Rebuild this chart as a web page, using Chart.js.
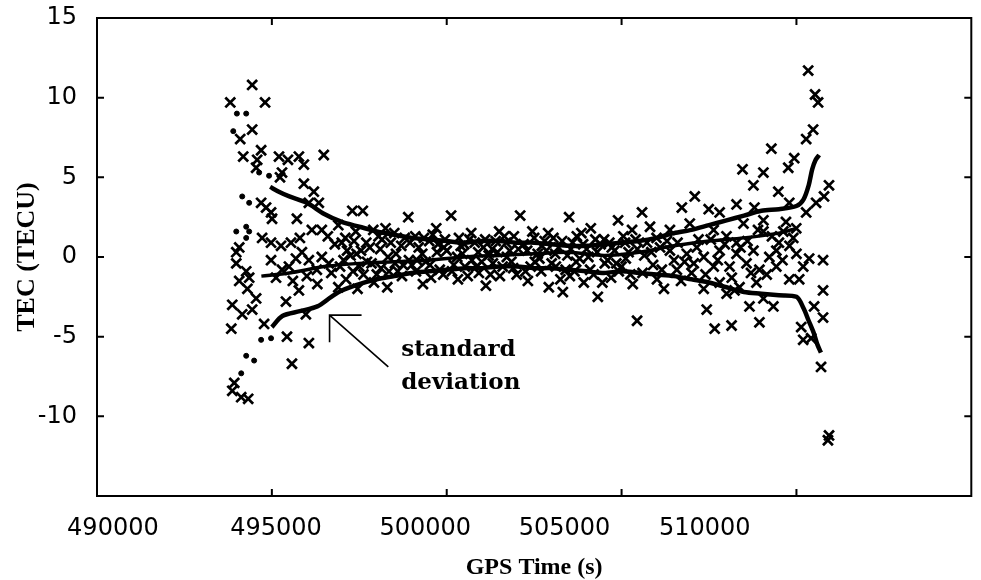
<!DOCTYPE html>
<html>
<head>
<meta charset="utf-8">
<script src="https://cdn.jsdelivr.net/npm/chart.js@4"></script>
<style>
  html, body { margin: 0; padding: 0; background: #fff; }
  #wrap { width: 981px; height: 580px; }
</style>
</head>
<body>
<div id="wrap"><canvas id="tecChart"></canvas></div>
<script>
// axis ticks
const xTickValues = [490000, 495000, 500000, 505000, 510000];
const xTickLabels = ['490000', '495000', '500000', '505000', '510000'];
const yTickValues = [-10, -5, 0, 5, 10, 15];

// TEC residuals (x markers), [GPS time, TECU]
const crossesLeft = [
  [493811, 9.7], [494437, 10.8], [494806, 9.7], [494437, 8.0], [494095, 7.4], [494181, 6.3],
  [494693, 6.7], [494580, 6.1], [494550, 5.6], [495204, 6.3], [495460, 6.1], [495773, 6.3],
  [495915, 5.8], [496484, 6.4], [495290, 5.3], [495233, 5.0], [494693, 3.4], [494835, 3.1],
  [495005, 2.4], [494977, 2.8], [495915, 4.6], [496200, 4.1], [496058, 3.4], [496342, 3.4],
  [495716, 2.4], [496427, 1.7], [494721, 1.2], [494977, 0.9], [495262, 0.7], [495546, 0.9],
  [495802, 1.2], [496143, 1.7], [494067, 0.6], [493982, 0.3], [493982, -0.4], [494266, -0.9],
  [494351, -1.3], [494067, -1.5], [494977, -0.2], [495119, -1.3], [495290, -0.8], [495489, -0.6],
  [495688, -0.1], [495859, 0.3], [496058, -0.2], [496285, -0.8], [496427, 0.0], [496626, -0.4],
  [495773, -2.1], [493868, -3.0], [494152, -3.6], [494550, -2.6], [494437, -3.3], [494778, -4.2],
  [493840, -4.5], [495403, -2.8], [495972, -3.6], [495432, -5.0], [496058, -5.4], [495574, -6.7],
  [493925, -7.9], [493868, -8.4], [494124, -8.8], [494323, -8.9], [495600, -1.5], [496000, -1.2],
  [496300, -1.7], [496700, -1.0], [496800, 0.8], [496600, 1.3], [496900, -1.9], [494300, -2.0]
];
const crossesMid = [
  [496900, 2.0], [496950, -0.6], [497100, 1.2], [497120, -1.4], [497150, 0.4], [497300, 2.9],
  [497320, -0.9], [497400, 1.6], [497420, 0.2], [497450, -2.0], [497600, 2.9], [497620, -1.1],
  [497700, 0.9], [497720, -0.3], [497900, 1.7], [497920, -1.6], [498100, 0.5], [498120, -0.7],
  [498150, 1.1], [498300, -1.9], [498320, 0.0], [498500, 1.5], [498520, -0.4], [498700, 0.7],
  [498720, -1.2], [498900, 2.5], [498920, -0.2], [499100, 1.3], [499120, -0.9], [499300, 0.2],
  [499320, -1.7], [499500, 1.0], [499520, -0.5], [499700, 1.8], [499720, 0.3], [499900, -1.1],
  [499920, 0.6], [500125, 2.6], [500300, 0.0], [500320, -1.4], [500350, 1.2], [500500, 0.8],
  [500520, -0.6], [500700, 1.5], [500720, -0.2], [500900, 0.3], [500920, -1.0], [501100, 1.1],
  [501120, -1.8], [501300, 0.5], [501320, -0.4], [501500, 1.6], [501520, -1.2], [501700, 0.9],
  [501720, 0.0], [501900, -0.7], [501920, 1.3], [502100, 2.6], [502300, 0.4], [502320, -1.5],
  [502500, 1.2], [502520, -0.3], [502700, -0.9], [502720, 0.7], [502900, 1.5], [502920, -1.9],
  [503100, 0.2], [503120, -0.6], [503300, 1.0], [503320, -2.2], [503500, 2.5], [503520, -1.2],
  [503550, 0.5], [503700, -0.3], [503720, 1.3], [503900, 0.8], [503920, -1.6], [504100, -0.8],
  [504120, 1.8], [504300, 0.3], [504320, -2.5], [504500, 1.1], [504520, -0.4], [504700, -1.3],
  [504720, 0.6], [504900, 2.3], [504920, -0.9], [505100, 0.9], [505120, -0.1], [505300, 1.7],
  [505320, -1.7], [505443, -4.0],
  [497000, 0.9], [497250, 0.1], [497500, -0.6], [497800, 0.6], [498000, -1.1], [498250, 1.8],
  [498400, 0.9], [498600, -0.9], [498800, 1.2], [499000, -0.5], [499200, 0.6], [499400, -0.3],
  [499600, 1.4], [499800, -0.8], [500000, 0.4], [500200, -0.5], [500400, 0.7], [500600, -1.2],
  [500800, 0.9], [501000, -0.3], [501200, 0.1], [501400, 1.0], [501600, -0.6], [501800, 0.4],
  [502000, -1.1], [502200, 0.8], [502400, -0.6], [502600, 0.2], [502800, 1.0], [503000, -0.4],
  [503200, 0.6], [503400, -0.8], [503600, 0.9], [503800, -0.1], [504000, 0.5], [504200, -1.1],
  [504400, 0.8], [504600, -0.2], [504800, 0.4], [505000, -0.6], [505200, 0.3], [505400, 1.1],
  [497050, -0.2], [497350, 1.0], [497550, 0.4], [497850, -0.4], [498050, 1.3], [498350, -0.9],
  [498550, 0.2], [498750, -0.5], [498950, 0.9], [499150, -0.2], [499350, 1.2], [499550, -1.3],
  [499750, 0.8], [499950, 1.1], [500150, -0.9], [500450, 0.2], [500650, 1.1], [500850, -0.6],
  [501050, 0.6], [501250, -1.1], [501450, 0.3], [501650, 1.3], [501850, -0.3], [502050, 0.5],
  [502250, -0.9], [502450, 1.6], [502650, -0.1], [502850, 0.4], [503050, 1.2], [503250, -1.4],
  [503450, 0.1], [503650, -0.9], [503850, 1.5], [504050, 0.0], [504250, 1.1], [504450, -1.6],
  [504650, 0.9], [504850, -0.4], [505050, 1.3], [505250, -1.1], [505450, 0.5], [505650, 0.1]
];
const crossesRight = [
  [510335, 11.7], [510533, 10.2], [510619, 9.7], [510477, 8.0], [510278, 7.4], [509283, 6.8],
  [508458, 5.5], [509055, 5.3], [509937, 6.2], [509766, 5.6], [508770, 4.5], [510931, 4.5],
  [509482, 4.1], [510789, 3.8], [510562, 3.4], [509795, 3.4], [510278, 2.8], [507093, 3.8],
  [506723, 3.1], [508287, 3.3], [508799, 3.1], [507491, 3.0], [507803, 2.8], [505585, 2.8],
  [509624, 1.6], [509994, 1.8], [509909, 1.2], [509055, 1.6], [508287, 0.9], [510761, -0.2],
  [510363, -0.1], [510193, -0.6], [510761, -2.1], [510079, -1.4], [509795, -1.4], [510505, -3.1],
  [510761, -3.8], [510136, -4.4], [510193, -5.2], [510420, -5.1], [510704, -6.9], [510932, -11.2],
  [510900, -11.5], [507434, -3.3], [507662, -4.5], [508145, -4.3], [508941, -4.1], [508657, -3.1],
  [509340, -3.1], [506211, -2.0], [507349, -2.0], [508003, -2.3], [508230, -2.1], [509055, -2.6],
  [506382, 0.4], [506865, 0.2], [507349, 0.0], [507804, 0.4], [508287, 0.2], [508770, 0.4],
  [509225, 0.0], [509425, 0.4], [508088, -0.6], [508572, -0.4], [508941, -0.8], [509425, -0.6],
  [507633, -0.6], [507064, -0.4], [506580, -0.8], [506012, -1.4], [507804, -1.6], [508372, -1.9],
  [508856, -1.6], [505727, 0.9], [505813, 1.9], [506382, 1.7], [506950, 2.1], [507633, 1.7],
  [508486, 2.1], [509055, 2.3], [505900, -0.5], [506100, 0.6], [505600, -1.0], [506700, -1.5],
  [506000, 1.2], [506500, -0.2], [507200, 1.1], [507000, -1.0], [508000, 1.3], [508600, 1.0],
  [509300, 1.3], [509600, -0.2], [509800, 0.7],
  [505850, 0.3], [506150, -0.8], [506300, 1.0], [506600, 0.9], [506800, -0.3], [507150, 0.6],
  [507400, -1.1], [507550, 1.1], [507750, -0.2], [507950, 0.8], [508150, -1.3], [508400, 0.6],
  [508700, -1.0], [508900, 1.7], [509150, -1.1], [509500, 0.9], [509700, 2.2], [510000, 0.2]
];

// scattered samples at the start of the arc (small dots)
const dotsLeft = [
  [493896, 7.9], [494000, 9.0], [494266, 9.0], [494636, 5.3], [494920, 5.1], [494152, 3.8],
  [494351, 3.4], [494266, 1.9], [493982, 1.6], [494351, 1.6], [494266, 1.2], [494693, -5.2],
  [494977, -5.1], [494266, -6.2], [494493, -6.5], [494124, -7.3]
];

// standard deviation and mean curves
const stdUpper = [
  [494950, 4.4], [495200, 4.1], [495500, 3.8], [496000, 3.4], [496500, 2.7], [497000, 2.2],
  [497500, 1.9], [498000, 1.6], [498500, 1.4], [499000, 1.2], [499500, 1.1], [500000, 1.0],
  [500500, 0.9], [501000, 1.0], [501500, 1.0], [502000, 0.9], [502500, 0.9], [503000, 0.8],
  [503500, 0.7], [504000, 0.7], [504500, 0.8], [505000, 0.9], [505500, 1.0], [506000, 1.2],
  [506500, 1.5], [507000, 1.7], [507500, 2.0], [508000, 2.3], [508500, 2.6], [509000, 2.9],
  [509500, 3.0], [510000, 3.2], [510200, 3.6], [510350, 4.5], [510450, 5.5], [510550, 6.1],
  [510650, 6.4]
];
const stdLower = [
  [495000, -4.4], [495300, -3.7], [495800, -3.4], [496300, -3.1], [496700, -2.5], [497000, -2.1],
  [497500, -1.7], [498000, -1.4], [498500, -1.2], [499000, -1.0], [499500, -0.9], [500000, -0.8],
  [500500, -0.7], [501000, -0.7], [501500, -0.6], [502000, -0.6], [502500, -0.7], [503000, -0.7],
  [503500, -0.8], [504000, -0.9], [504500, -1.0], [505000, -0.9], [505500, -1.0], [506000, -1.1],
  [506500, -1.2], [507000, -1.4], [507500, -1.6], [508000, -1.9], [508500, -2.2], [509000, -2.3],
  [509500, -2.4], [510000, -2.5], [510200, -3.2], [510350, -4.0], [510500, -4.8], [510600, -5.5],
  [510700, -6.0]
];
const meanLine = [
  [494700, -1.2], [495500, -1.0], [496500, -0.6], [497500, -0.4], [498500, -0.3], [499500, -0.2],
  [500500, 0.0], [501500, 0.1], [502500, 0.2], [503500, 0.3], [504500, 0.1], [505500, 0.3],
  [506500, 0.7], [507500, 1.0], [508500, 1.2], [509500, 1.5], [510000, 1.8]
];

// annotation (data coordinates)
const noteText = ['standard', 'deviation'];
const noteAt = [498700, -5.85];
const arrowTip = [496650, -3.65];
const arrowTail = [498330, -6.9];

// label nudges so tick labels sit where the original printed them
const xLabelNudge = [455, 119, -614, -1632, -2622];

const toXY = arr => arr.map(p => ({ x: p[0], y: p[1] }));

const frameAndNotes = {
  id: 'frameAndNotes',
  afterDatasetsDraw(chart) {
    const { ctx, chartArea: a, scales: { x, y } } = chart;
    ctx.save();
    ctx.strokeStyle = '#000';
    ctx.lineWidth = 2;
    ctx.strokeRect(a.left, a.top, a.right - a.left, a.bottom - a.top);
    // inward tick marks, all four sides
    ctx.beginPath();
    xTickValues.slice(1).forEach(v => {
      const px = x.getPixelForValue(v);
      ctx.moveTo(px, a.bottom); ctx.lineTo(px, a.bottom - 7);
      ctx.moveTo(px, a.top); ctx.lineTo(px, a.top + 7);
    });
    yTickValues.slice(0, -1).forEach(v => {
      const py = y.getPixelForValue(v);
      ctx.moveTo(a.left, py); ctx.lineTo(a.left + 7, py);
      ctx.moveTo(a.right, py); ctx.lineTo(a.right - 7, py);
    });
    ctx.stroke();

    // arrow
    const tx = x.getPixelForValue(arrowTip[0]), ty = y.getPixelForValue(arrowTip[1]);
    const ex = x.getPixelForValue(arrowTail[0]), ey = y.getPixelForValue(arrowTail[1]);
    ctx.lineWidth = 1.6;
    ctx.beginPath();
    ctx.moveTo(ex, ey); ctx.lineTo(tx, ty);
    ctx.moveTo(tx + 32, ty); ctx.lineTo(tx, ty); ctx.lineTo(tx, ty + 27);
    ctx.stroke();

    // label
    ctx.fillStyle = '#000';
    ctx.font = 'bold 23px "DejaVu Serif", serif';
    ctx.textBaseline = 'middle';
    ctx.textAlign = 'left';
    const nx = x.getPixelForValue(noteAt[0]), ny = y.getPixelForValue(noteAt[1]);
    ctx.fillText(noteText[0], nx, ny);
    ctx.fillText(noteText[1], nx, ny + 33);
    ctx.restore();
  }
};

const crossStyle = {
  pointStyle: 'crossRot', pointRadius: 7, pointBorderWidth: 2.7,
  borderColor: '#000', backgroundColor: '#000', showLine: false
};
const curveStyle = {
  showLine: true, borderColor: '#000', borderWidth: 4.5, pointRadius: 0,
  tension: 0.3, fill: false
};

new Chart(document.getElementById('tecChart'), {
  type: 'scatter',
  data: {
    datasets: [
      { label: 'TEC', data: toXY(crossesLeft), ...crossStyle },
      { label: 'TEC mid', data: toXY(crossesMid), ...crossStyle },
      { label: 'TEC right', data: toXY(crossesRight), ...crossStyle },
      { label: 'start', data: toXY(dotsLeft), pointStyle: 'circle', pointRadius: 2.5,
        borderColor: '#000', backgroundColor: '#000', showLine: false },
      { label: 'std +', data: toXY(stdUpper), ...curveStyle },
      { label: 'std -', data: toXY(stdLower), ...curveStyle },
      { label: 'mean', data: toXY(meanLine), ...curveStyle, borderWidth: 3.5 }
    ]
  },
  options: {
    responsive: true,
    maintainAspectRatio: false,
    animation: false,
    layout: { padding: { top: 18, right: 3, left: 0, bottom: 0 } },
    plugins: { legend: { display: false }, tooltip: { enabled: false } },
    scales: {
      x: {
        type: 'linear',
        min: 490000,
        max: 515000,
        afterBuildTicks: s => {
          s.ticks = xTickValues.map((v, i) => ({ value: v + xLabelNudge[i] }));
        },
        afterFit: s => { s.height = 84; s.paddingLeft = 0; s.paddingRight = 0; },
        grid: { display: false },
        border: { display: false },
        ticks: {
          color: '#000',
          padding: 10,
          maxRotation: 0,
          autoSkip: false,
          font: { family: '"DejaVu Sans", sans-serif', size: 24 },
          callback: (v, i) => xTickLabels[i]
        },
        title: {
          display: true,
          text: 'GPS Time (s)',
          color: '#000',
          padding: { top: 0, bottom: 0 },
          font: { family: '"Liberation Serif", serif', size: 24, weight: 'bold', lineHeight: 1 }
        }
      },
      y: {
        min: -15,
        max: 15,
        afterBuildTicks: s => { s.ticks = yTickValues.map(v => ({ value: v })); },
        afterFit: s => { s.width = 97; s.paddingTop = 0; s.paddingBottom = 0; },
        grid: { display: false },
        border: { display: false },
        ticks: {
          color: '#000',
          padding: 12,
          font: { family: '"DejaVu Sans", sans-serif', size: 24 }
        },
        title: {
          display: true,
          text: 'TEC (TECU)',
          color: '#000',
          padding: { top: 14, bottom: 0 },
          font: { family: '"Liberation Serif", serif', size: 26, weight: 'bold', lineHeight: 1 }
        }
      }
    }
  },
  plugins: [frameAndNotes]
});
</script>
</body>
</html>
